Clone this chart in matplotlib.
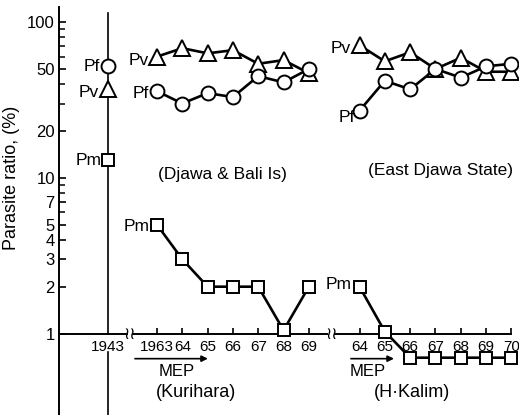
import matplotlib.pyplot as plt
import numpy as np

plt.rcParams['font.family'] = ['Liberation Sans', 'DejaVu Sans']

# 1943 survey
pf_1943 = 52
pv_1943 = 37
pm_1943 = 13

# Djawa & Bali Is (Pf, Pv) and Kurihara (Pm), 1963-69
years_djawa = [1963, 1964, 1965, 1966, 1967, 1968, 1969]
pv_djawa = [60, 68, 63, 66, 54, 57, 47]
pf_djawa = [36, 30, 35, 33, 45, 41, 50]
pm_kurihara = [5, 3, 2, 2, 2, 1.05, 2]

# East Djawa State (Pf, Pv) and H.Kalim (Pm), 1964-70
years_east = [1964, 1965, 1966, 1967, 1968, 1969, 1970]
pv_east = [71, 56, 64, 50, 59, 48, 48]
pf_east = [27, 42, 37, 50, 44, 52, 54]
pm_kalim = [2, 1.03, 0.7, 0.7, 0.7, 0.7, 0.7]

ytick_vals = [1, 2, 3, 4, 5, 7, 10, 20, 50, 100]
ytick_minor = [6, 8, 9, 30, 40, 60, 70, 80, 90]


# broken x axis: each group gets its own offset (1 unit = 1 year)
def xpos1(years):
    return np.array(years) - 1963


def xpos2(years):
    return np.array(years) - 1964 + 8


x1943 = -1.93

fig = plt.figure(figsize=(5.19, 4.15), dpi=100)
ax = fig.add_axes([59 / 519, 0, 460 / 519, 408 / 415])
ax.set_yscale('log')
ax.set_xlim(-3.87, 14.3)
ax.set_ylim(0.3, 125)

for s in ['top', 'right', 'bottom']:
    ax.spines[s].set_visible(False)
ax.spines['left'].set_linewidth(1.4)
ax.set_xticks([])
ax.set_yticks(ytick_vals)
ax.set_yticklabels([str(v) for v in ytick_vals])
ax.set_yticks(ytick_minor, minor=True)
ax.yaxis.set_minor_formatter(plt.NullFormatter())
ax.tick_params(axis='y', which='major', direction='in', length=5, width=1.2,
               labelsize=12, pad=3)
ax.tick_params(axis='y', which='minor', direction='in', length=4, width=1.1)
ax.set_ylabel('Parasite ratio, (%)', fontsize=13)
ax.yaxis.set_label_coords(-0.085, 0.58)

# horizontal axis at 1 %, with two breaks
lw_ax = 1.4
ax.plot([-3.87, -1.2], [1, 1], color='black', lw=lw_ax)
ax.plot([-0.93, 6.72], [1, 1], color='black', lw=lw_ax)
ax.plot([7.05, 14.0], [1, 1], color='black', lw=lw_ax)
for xb in [-1.07, 6.88]:
    ax.text(xb, 1.0, '\u2240\u2240', ha='center', va='center', fontsize=12,
            family='DejaVu Sans')
ax.vlines(xpos1(years_djawa), 1, 1.08, color='black', lw=1.2)
ax.vlines(xpos2(years_east), 1, 1.08, color='black', lw=1.2)

# year labels
ax.annotate('1943', (x1943, 1), xytext=(0, -10), textcoords='offset points',
            ha='center', va='center', fontsize=11)
for x, y in zip(xpos1(years_djawa), years_djawa):
    lab = str(y) if y == 1963 else str(y)[2:]
    ax.annotate(lab, (x, 1), xytext=(0, -10), textcoords='offset points',
                ha='center', va='center', fontsize=11)
for x, y in zip(xpos2(years_east), years_east):
    ax.annotate(str(y)[2:], (x, 1), xytext=(0, -10), textcoords='offset points',
                ha='center', va='center', fontsize=11)

# 1943 vertical line
ax.plot([x1943, x1943], [114, 1], color='black', lw=1.2)
ax.plot([x1943, x1943], [0.767, 0.3], color='black', lw=1.2)

mk = dict(color='black', lw=1.9, mfc='white', mec='black', mew=1.4, zorder=3)
circ = dict(marker='o', ms=10)
tri = dict(marker='^', ms=12)
sq = dict(marker='s', ms=8.6)

ax.plot([x1943], [pf_1943], **circ, **mk)
ax.plot([x1943], [pv_1943], **tri, **mk)
ax.plot([x1943], [pm_1943], **sq, **mk)

ax.plot(xpos1(years_djawa), pv_djawa, **tri, **mk)
ax.plot(xpos1(years_djawa), pf_djawa, **circ, **mk)
ax.plot(xpos1(years_djawa), pm_kurihara, **sq, **mk)

ax.plot(xpos2(years_east), pv_east, **tri, **mk)
ax.plot(xpos2(years_east), pf_east, **circ, **mk)
ax.plot(xpos2(years_east), pm_kalim, **sq, **mk)

# series labels next to the first point of each series
labels = [
    ('Pf', x1943, pf_1943, (-6, 0)),
    ('Pv', x1943, pv_1943, (-7, -2)),
    ('Pm', x1943, pm_1943, (-5, 0)),
    ('Pv', xpos1(years_djawa)[0], pv_djawa[0], (-6, -3)),
    ('Pf', xpos1(years_djawa)[0], pf_djawa[0], (-6, -1.5)),
    ('Pm', xpos1(years_djawa)[0], pm_kurihara[0], (-5, -1.5)),
    ('Pv', xpos2(years_east)[0], pv_east[0], (-6, -2)),
    ('Pf', xpos2(years_east)[0], pf_east[0], (-3, -5)),
    ('Pm', xpos2(years_east)[0], pm_kalim[0], (-6, 1.5)),
]
for txt, x, y, off in labels:
    ax.annotate(txt, (x, y), xytext=off, textcoords='offset points',
                ha='right', va='center', fontsize=12.5)

# group captions
ax.text(2.6, 10.45, '(Djawa & Bali Is)', ha='center', va='center', fontsize=12.5)
ax.text(11.2, 11.2, '(East Djawa State)', ha='center', va='center', fontsize=12.5)

# MEP arrows and source captions under the axis
arrow_y = 0.69
for x0, x1, xm, xc, cap in [(-0.87, 2.01, 0.79, 1.54, '(Kurihara)'),
                            (7.66, 9.36, 8.33, 10.07, '(H\u00b7Kalim)')]:
    ax.annotate('', xy=(x1, arrow_y), xytext=(x0, arrow_y),
                arrowprops=dict(arrowstyle='-|>', color='black', lw=1.2,
                                mutation_scale=9, shrinkA=0, shrinkB=0))
    ax.annotate('MEP', (xm, 1), xytext=(0, -27), textcoords='offset points',
                ha='center', va='center', fontsize=12)
    ax.annotate(cap, (xc, 1), xytext=(0, -42.5), textcoords='offset points',
                ha='center', va='center', fontsize=13)

fig.savefig('out.png', dpi=100)
